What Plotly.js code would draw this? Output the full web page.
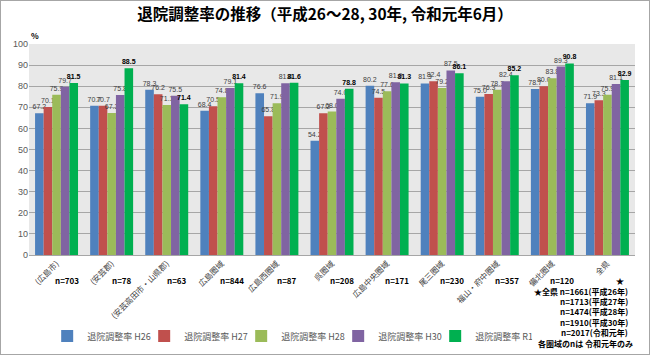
<!DOCTYPE html>
<html>
<head>
<meta charset="utf-8">
<script src="https://cdn.plot.ly/plotly-3.0.1.min.js"></script>
<style>
html,body{margin:0;padding:0;background:#fff;}
#chart{width:648px;height:353px;border:1px solid #a6a6a6;}
</style>
</head>
<body>
<div id="chart"></div>
<script>
const categories = ['(広島市)', '(安芸郡)', '(安芸高田市・山県郡)', '広島圏域', '広島西圏域', '呉圏域', '広島中央圏域', '尾三圏域', '福山・府中圏域', '備北圏域', '全県'];
const seriesNames = ['退院調整率 H26', '退院調整率 H27', '退院調整率 H28', '退院調整率 H30', '退院調整率 R1'];
const h26 = [67.2, 70.7, 78.3, 68.4, 76.6, 54.2, 80.2, 81.3, 75.0, 78.7, 71.9];
const h27 = [70.1, 70.7, 76.2, 70.5, 65.8, 67.2, 74.5, 82.4, 76.3, 80.0, 73.3];
const h28 = [75.9, 67.3, 71.1, 74.8, 71.9, 68.0, 77.6, 79.2, 78.3, 83.8, 75.9];
const h30 = [79.7, 75.8, 75.5, 79.1, 81.4, 74.0, 81.9, 87.5, 82.4, 89.3, 81.1];
const r1  = [81.5, 88.5, 71.4, 81.4, 81.6, 78.8, 81.3, 86.1, 85.2, 90.8, 82.9];
const nLabels = ['n=703', 'n=78', 'n=63', 'n=844', 'n=87', 'n=208', 'n=171', 'n=230', 'n=357', 'n=120', '★'];
const totalN = [1661, 1713, 1474, 1910, 2017];
const totalYears = ['平成26年', '平成27年', '平成28年', '平成30年', '令和元年'];
const noteLast = '各圏域のnは 令和元年のみ';

const colors = ['#4f81bd', '#c0504d', '#9bbb59', '#8064a2', '#00b050'];
const values = [h26, h27, h28, h30, r1];
const FONT = '"Noto Sans CJK JP", "Noto Sans", sans-serif';

const traces = values.map((v, i) => ({
  type: 'bar',
  name: seriesNames[i],
  x: categories,
  y: v,
  marker: {color: colors[i]},
  text: v.map(d => d.toFixed(1)),
  texttemplate: i === 4 ? '<b>%{text}</b>' : '%{text}',
  textposition: 'outside',
  constraintext: 'none',
  cliponaxis: false,
  textfont: {size: 7, color: i === 4 ? '#000' : '#404040', family: '"Liberation Sans", Arial, sans-serif'},
  hoverinfo: 'x+y'
}));

const annotations = [];
nLabels.forEach((t, i) => {
  annotations.push({
    x: categories[i], xref: 'x', y: -0.123, yref: 'paper',
    xshift: i === 10 ? 13 : 10,
    text: '<b>' + t + '</b>', showarrow: false,
    font: {size: 8, color: '#000', family: FONT},
    xanchor: 'center', yanchor: 'middle'
  });
});
totalN.forEach((n, i) => {
  annotations.push({
    x: 0.992, xref: 'paper', y: -0.171 - i * 0.0495, yref: 'paper',
    text: '<b>' + (i === 0 ? '★全県 ' : '') + 'n=' + n + '(' + totalYears[i] + ')</b>',
    showarrow: false, xanchor: 'right', yanchor: 'middle',
    font: {size: 8, color: '#000', family: FONT}
  });
});
annotations.push({
  x: 1.0, xref: 'paper', y: -0.419, yref: 'paper',
  text: '<b>' + noteLast + '</b>', showarrow: false, xanchor: 'right', yanchor: 'middle',
  font: {size: 8, color: '#000', family: FONT}
});
annotations.push({
  x: 0.0, xref: 'paper', y: 1.038, yref: 'paper',
  text: '<b>%</b>', showarrow: false, xanchor: 'left', yanchor: 'middle',
  font: {size: 8, color: '#000', family: FONT}
});

const layout = {
  width: 648, height: 353,
  margin: {l: 28, r: 14, t: 43, b: 99, autoexpand: false},
  paper_bgcolor: '#ffffff',
  plot_bgcolor: '#e8e8e8',
  font: {family: FONT, color: '#404040'},
  title: {
    text: '退院調整率の推移（平成26～28, 30年, 令和元年6月）',
    font: {size: 15.5, color: '#000', family: FONT, weight: 'bold'},
    x: 0.5, xref: 'container', xanchor: 'center',
    y: 1 - 14 / 353, yref: 'container', yanchor: 'middle'
  },
  barmode: 'group',
  bargap: 0.22,
  bargroupgap: 0,
  showlegend: true,
  legend: {
    orientation: 'h', x: 0.03, xanchor: 'left', y: -0.384, yanchor: 'middle',
    font: {size: 9, color: '#595959', family: FONT},
    entrywidth: 52, entrywidthmode: 'pixels', itemwidth: 30,
    bgcolor: 'rgba(0,0,0,0)', traceorder: 'normal'
  },
  xaxis: {
    type: 'category', tickangle: -45, automargin: false,
    tickfont: {size: 8, color: '#404040', family: FONT},
    showline: true, linecolor: '#a6a6a6', ticks: '', showgrid: false
  },
  yaxis: {
    range: [0, 100], dtick: 10, automargin: false,
    tickfont: {size: 9, color: '#595959', family: '"Liberation Sans", Arial, sans-serif'},
    gridcolor: '#a6a6a6', gridwidth: 1, zeroline: false, showline: false, ticks: ''
  },
  annotations: annotations
};

Plotly.newPlot('chart', traces, layout, {displayModeBar: false, staticPlot: true});
</script>
</body>
</html>
